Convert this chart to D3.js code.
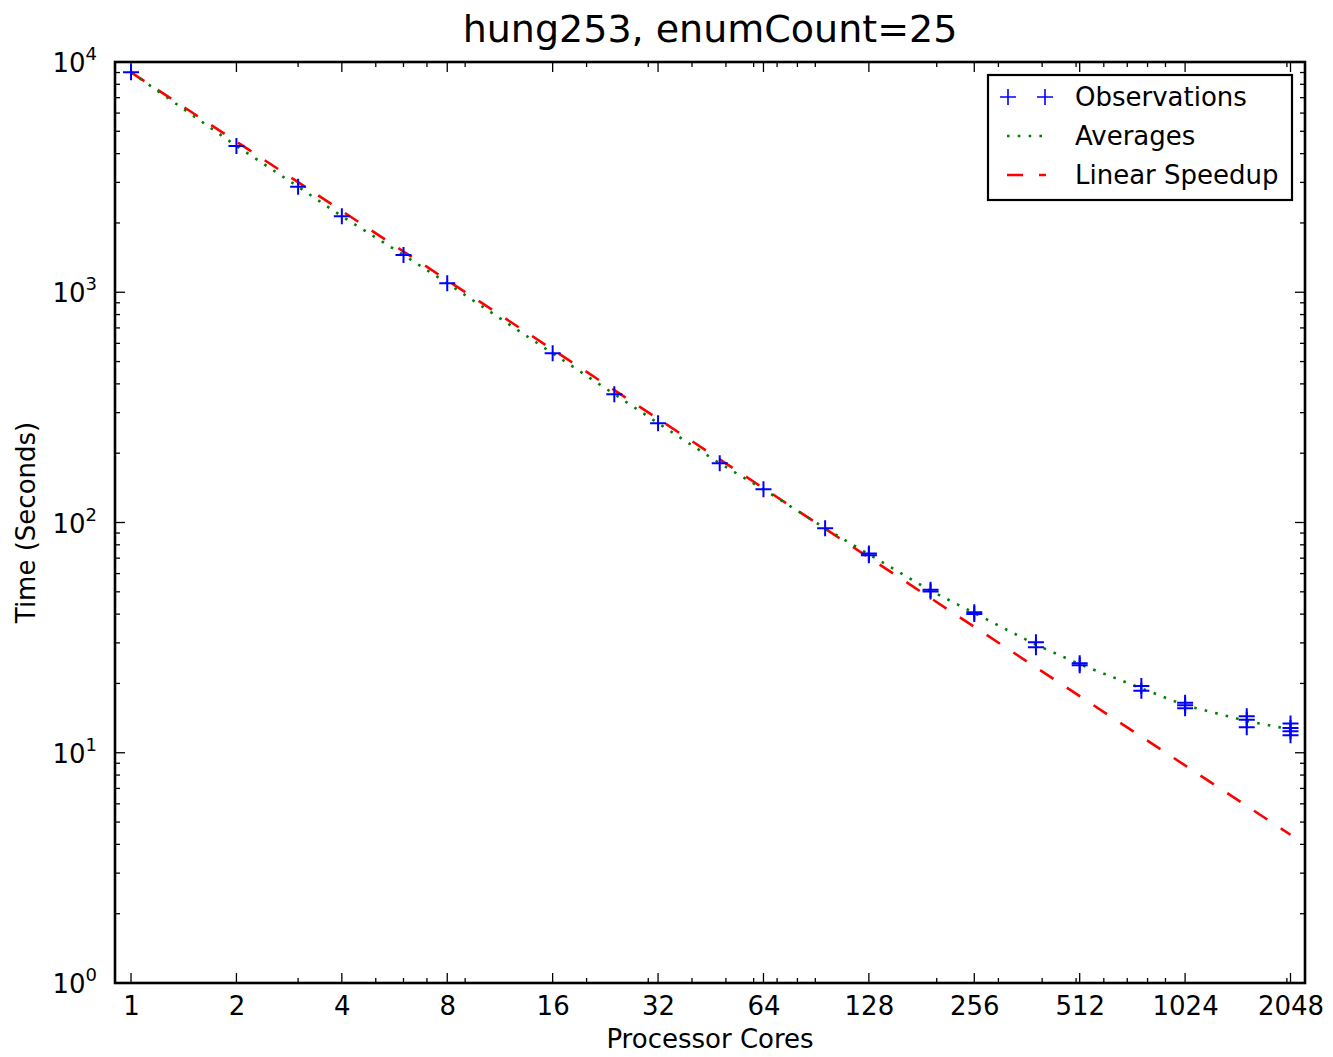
<!DOCTYPE html>
<html>
<head>
<meta charset="utf-8">
<script src="https://cdn.jsdelivr.net/npm/d3@7"></script>
<style>
  body { margin: 0; background: #fff; }
  svg text { font-family: "DejaVu Sans", sans-serif; fill: #000; }
</style>
</head>
<body>
<svg id="chart" width="1333" height="1057"></svg>
<script>
// Run times of hung253 (enumCount=25) by number of processor cores.
const obsCores = [1, 2, 3, 4, 6, 8, 16, 24, 32, 48, 64, 96,
  128, 128, 192, 192, 256, 256, 384, 384, 512, 512, 768, 768,
  1024, 1024, 1024, 1536, 1536, 1536, 2048, 2048, 2048, 2048];
const obsTimes = [9020, 4320, 2873, 2138, 1452, 1094, 543, 361, 270, 180.7, 139.3, 94.4,
  72.0, 73.4, 50.2, 51.0, 40.1, 40.8, 30.2, 28.7, 24.0, 24.5, 19.5, 18.6,
  16.5, 16.1, 15.6, 14.4, 13.9, 12.9, 13.4, 12.8, 12.4, 11.9];

const xTicks = [1, 2, 4, 8, 16, 32, 64, 128, 256, 512, 1024, 2048];
const yTickExponents = [0, 1, 2, 3, 4];
const legendLabels = ["Observations", "Averages", "Linear Speedup"];

const plotLeft = 115, plotRight = 1305, plotTop = 62, plotBottom = 983;

const svg = d3.select("#chart");

const x = d3.scaleLog().base(2).domain([0.9, 2252.8]).range([plotLeft, plotRight]);
const y = d3.scaleLog().base(10).domain([1, 1e4]).range([plotBottom, plotTop]);

// averages per core count
const grouped = d3.rollups(obsCores.map((c, i) => [c, obsTimes[i]]), v => d3.mean(v, d => d[1]), d => d[0])
  .sort((a, b) => a[0] - b[0]);
const baseTime = grouped[0][1];
const speedup = grouped.map(([c]) => [c, baseTime / c]);

const line = d3.line().x(d => x(d[0])).y(d => y(d[1]));

// minor ticks: 2..9 x 10^k on both axes
const minorX = [];
for (let k = 0; k <= 3; k++) for (let d = 2; d <= 9; d++) {
  const v = d * Math.pow(10, k);
  if (v >= 0.9 && v <= 2252.8 && !xTicks.includes(v)) minorX.push(v);
}
const minorY = [];
for (let k = 0; k < 4; k++) for (let d = 2; d <= 9; d++) minorY.push(d * Math.pow(10, k));

const majorLen = 10, minorLen = 5;
const ticks = svg.append("g").attr("stroke", "#000").attr("stroke-width", 1.3);
xTicks.forEach(v => {
  ticks.append("line").attr("x1", x(v)).attr("x2", x(v)).attr("y1", plotBottom).attr("y2", plotBottom - majorLen);
  ticks.append("line").attr("x1", x(v)).attr("x2", x(v)).attr("y1", plotTop).attr("y2", plotTop + majorLen);
});
minorX.forEach(v => {
  ticks.append("line").attr("x1", x(v)).attr("x2", x(v)).attr("y1", plotBottom).attr("y2", plotBottom - minorLen);
  ticks.append("line").attr("x1", x(v)).attr("x2", x(v)).attr("y1", plotTop).attr("y2", plotTop + minorLen);
});
yTickExponents.forEach(e => {
  const v = Math.pow(10, e);
  ticks.append("line").attr("y1", y(v)).attr("y2", y(v)).attr("x1", plotLeft).attr("x2", plotLeft + majorLen);
  ticks.append("line").attr("y1", y(v)).attr("y2", y(v)).attr("x1", plotRight).attr("x2", plotRight - majorLen);
});
minorY.forEach(v => {
  ticks.append("line").attr("y1", y(v)).attr("y2", y(v)).attr("x1", plotLeft).attr("x2", plotLeft + minorLen);
  ticks.append("line").attr("y1", y(v)).attr("y2", y(v)).attr("x1", plotRight).attr("x2", plotRight - minorLen);
});

// x tick labels through a d3 axis (tick lines drawn above)
const bx = d3.axisBottom(x).tickValues(xTicks).tickSize(0).tickFormat(d => d);
const xAxisG = svg.append("g").attr("transform", `translate(0,${plotBottom})`).call(bx);
xAxisG.select(".domain").remove();
xAxisG.selectAll("text").attr("font-size", 26).attr("dy", null).attr("y", 32)
  .style("font-family", '"DejaVu Sans", sans-serif');

// y tick labels as 10^e
const yLab = svg.append("g");
yTickExponents.forEach(e => {
  const t = yLab.append("text").attr("x", 97).attr("y", y(Math.pow(10, e)) + 10)
    .attr("text-anchor", "end").attr("font-size", 26);
  t.append("tspan").text("10");
  t.append("tspan").attr("dy", -12).attr("font-size", 18).text(e);
});

// series
svg.append("path").datum(speedup).attr("d", line)
  .attr("fill", "none").attr("stroke", "#ff0000").attr("stroke-width", 2.6)
  .attr("stroke-dasharray", "16,16");
svg.append("path").datum(grouped).attr("d", line)
  .attr("fill", "none").attr("stroke", "#008000").attr("stroke-width", 2.6)
  .attr("stroke-dasharray", "2.6,8.2");
const plus = "M-8,0H8M0,-8V8";
svg.append("g").selectAll("path").data(obsCores.map((c, i) => [c, obsTimes[i]])).join("path")
  .attr("transform", d => `translate(${x(d[0])},${y(d[1])})`)
  .attr("d", plus).attr("fill", "none").attr("stroke", "#0000ff").attr("stroke-width", 2);

// frame
svg.append("rect").attr("x", plotLeft).attr("y", plotTop)
  .attr("width", plotRight - plotLeft).attr("height", plotBottom - plotTop)
  .attr("fill", "none").attr("stroke", "#000").attr("stroke-width", 2.6);

// title and axis labels
svg.append("text").attr("x", (plotLeft + plotRight) / 2).attr("y", 42).attr("text-anchor", "middle")
  .attr("font-size", 38).text("hung253, enumCount=25");
svg.append("text").attr("x", (plotLeft + plotRight) / 2).attr("y", 1048).attr("text-anchor", "middle")
  .attr("font-size", 26).text("Processor Cores");
svg.append("text").attr("transform", `translate(35,${(plotTop + plotBottom) / 2}) rotate(-90)`)
  .attr("text-anchor", "middle").attr("font-size", 26).text("Time (Seconds)");

// legend
const lg = svg.append("g");
lg.append("rect").attr("x", 988).attr("y", 75).attr("width", 304).attr("height", 125)
  .attr("fill", "#fff").attr("stroke", "#000").attr("stroke-width", 2.2);
const rowY = [97, 136, 175];
lg.selectAll("text").data(legendLabels).join("text")
  .attr("x", 1075).attr("y", (d, i) => rowY[i] + 9).attr("font-size", 26).text(d => d);
[1008, 1045].forEach(px => lg.append("path").attr("transform", `translate(${px},${rowY[0]})`)
  .attr("d", plus).attr("fill", "none").attr("stroke", "#0000ff").attr("stroke-width", 1.6));
lg.append("line").attr("x1", 1007).attr("x2", 1046).attr("y1", rowY[1]).attr("y2", rowY[1])
  .attr("stroke", "#008000").attr("stroke-width", 2.6).attr("stroke-dasharray", "2.6,8.2");
lg.append("line").attr("x1", 1007).attr("x2", 1046).attr("y1", rowY[2]).attr("y2", rowY[2])
  .attr("stroke", "#ff0000").attr("stroke-width", 2.6).attr("stroke-dasharray", "16,16");
</script>
</body>
</html>
